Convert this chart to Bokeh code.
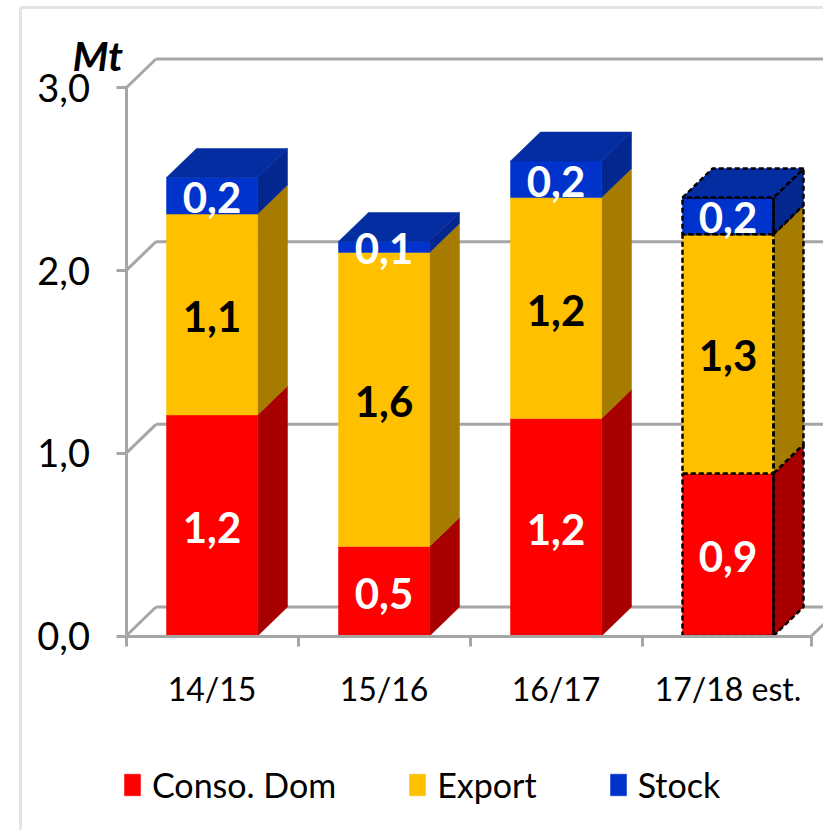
from bokeh.plotting import figure
from bokeh.models import (ColumnDataSource, Range1d, LinearAxis, FixedTicker, Label,
                          BoxAnnotation, Legend, LegendItem)
from bokeh.core.properties import value
from bokeh.embed import file_html
from bokeh.resources import INLINE

categories = ["14/15", "15/16", "16/17", "17/18 est."]
conso = [1.21, 0.49, 1.19, 0.89]
export = [1.10, 1.61, 1.21, 1.31]
stock = [0.20, 0.06, 0.20, 0.20]
y_ticks = [0, 1, 2, 3]
y_tick_labels = ["0,0", "1,0", "2,0", "3,0"]
series_names = ["Conso. Dom", "Export", "Stock"]
FRONT = ["#FF0000", "#FFC000", "#0033CC"]
SIDE = ["#A80000", "#A67C00", "#03268F"]
TOP = "#032DA0"
GRID = "#A6A6A6"
FONT = "Lato"

W, H = 823, 830
LEFT, BASE = 125.5, 635.5
PX_X, PX_Y = 172.0, 182.67
DX, DY = 30 / PX_X, 29 / PX_Y
BW = 91 / PX_X
AXIS_END = 3.985

p = figure(width=W, height=H, output_backend="svg", toolbar_location=None,
           x_range=Range1d(-LEFT / PX_X, (W - LEFT) / PX_X),
           y_range=Range1d(-(H - BASE) / PX_Y, BASE / PX_Y),
           x_axis_location=None, y_axis_location=None,
           min_border=0, outline_line_color=None,
           background_fill_color="white", border_fill_color="white",
           margin=(0, 0, 0, 0))
p.grid.visible = False

# Back wall and floor
XMAX = (W - LEFT) / PX_X
for t in y_ticks:
    p.segment([0], [t], [DX], [t + DY], line_color=GRID, line_width=3)
    p.segment([DX], [t + DY], [XMAX], [t + DY], line_color=GRID, line_width=3)
p.segment([AXIS_END], [0], [AXIS_END + DX], [DY], line_color=GRID, line_width=3)

# Axes
yaxis = LinearAxis(ticker=FixedTicker(ticks=y_ticks), fixed_location=0,
                   major_label_overrides={t: s for t, s in zip(y_ticks, y_tick_labels)},
                   bounds=(0, 3), axis_line_color=GRID, axis_line_width=3,
                   major_tick_line_color=GRID, major_tick_line_width=3,
                   major_tick_in=0, major_tick_out=10, minor_tick_line_color=None,
                   major_label_standoff=26, major_label_text_font=FONT,
                   major_label_text_font_size="38px", major_label_text_color="black")
p.add_layout(yaxis, "left")

centers = [i + 0.5 for i in range(len(categories))]
xaxis = LinearAxis(ticker=FixedTicker(ticks=centers, minor_ticks=[0, 1, 2, 3, AXIS_END]),
                   fixed_location=0,
                   major_label_overrides={c: s for c, s in zip(centers, categories)},
                   bounds=(0, AXIS_END), axis_line_color=GRID, axis_line_width=3,
                   major_tick_line_color=None, major_tick_in=0, major_tick_out=0,
                   minor_tick_line_color=GRID, minor_tick_line_width=3,
                   minor_tick_in=0, minor_tick_out=10,
                   major_label_standoff=23, major_label_text_font=FONT,
                   major_label_text_font_size="32px", major_label_text_color="black")
p.add_layout(xaxis, "below")

# Stacked 3-D bars
series = [conso, export, stock]
bottoms = [0.0] * len(categories)
legend_items = []
for k, vals in enumerate(series):
    tops = [b + v for b, v in zip(bottoms, vals)]
    xs = [[c + BW / 2, c + BW / 2 + DX, c + BW / 2 + DX, c + BW / 2] for c in centers]
    ys = [[b, b + DY, t + DY, t] for b, t in zip(bottoms, tops)]
    p.patches(xs, ys, fill_color=SIDE[k], line_color=SIDE[k], line_width=0.5)
    r = p.vbar(x=centers, bottom=bottoms, top=tops, width=BW, fill_color=FRONT[k],
               line_color=FRONT[k], line_width=0.5)
    legend_items.append(LegendItem(label=series_names[k], renderers=[r]))
    i = len(categories) - 1
    p.vbar(x=[centers[i]], bottom=[bottoms[i]], top=[tops[i]], width=BW, fill_color=None,
           line_color="black", line_width=2.5, line_dash="5 3")
    p.patches([xs[i]], [ys[i]], fill_color=None, line_color="black", line_width=2.5, line_dash="5 3")
    bottoms = tops

# Top faces
top_xs = [[c - BW / 2, c - BW / 2 + DX, c + BW / 2 + DX, c + BW / 2] for c in centers]
top_ys = [[t, t + DY, t + DY, t] for t in bottoms]
p.patches(top_xs, top_ys, fill_color=TOP, line_color=TOP, line_width=0.5)
p.patches([top_xs[-1]], [top_ys[-1]], fill_color=None, line_color="black", line_width=2.5, line_dash="5 3")

# Data labels
def fmt(v):
    return f"{v:.1f}".replace(".", ",")

bottoms = [0.0] * len(categories)
text_colors = ["white", "black", "white"]
for k, vals in enumerate(series):
    src = ColumnDataSource(dict(x=centers,
                                y=[b + v / 2 for b, v in zip(bottoms, vals)],
                                t=[fmt(v) for v in vals]))
    p.text("x", "y", text="t", source=src, text_color=text_colors[k],
           text_font=value(FONT), text_font_style="bold", text_font_size="42px",
           text_align="center", text_baseline="middle", y_offset=2)
    bottoms = [b + v for b, v in zip(bottoms, vals)]

# Unit label and chart frame
p.add_layout(Label(x=72, y=30, x_units="canvas", y_units="canvas", text="Mt",
                   text_font=FONT, text_font_style="bold italic", text_font_size="41px",
                   text_color="black", text_baseline="top"))
p.add_layout(BoxAnnotation(left=20, top=7, right=W + 40, bottom=H + 40,
                           left_units="canvas", top_units="canvas",
                           right_units="canvas", bottom_units="canvas",
                           fill_color=None, line_color=GRID, line_width=3))

# Legend
legend = Legend(items=legend_items, orientation="horizontal", location=(122, 25),
                glyph_width=20, glyph_height=27, spacing=71, padding=0, margin=0,
                label_standoff=10, label_text_font=FONT, label_text_font_size="34px",
                label_text_color="black", border_line_color=None,
                background_fill_color=None, background_fill_alpha=0)
p.add_layout(legend, "center")

open("out.html", "w").write(file_html(p, INLINE))
